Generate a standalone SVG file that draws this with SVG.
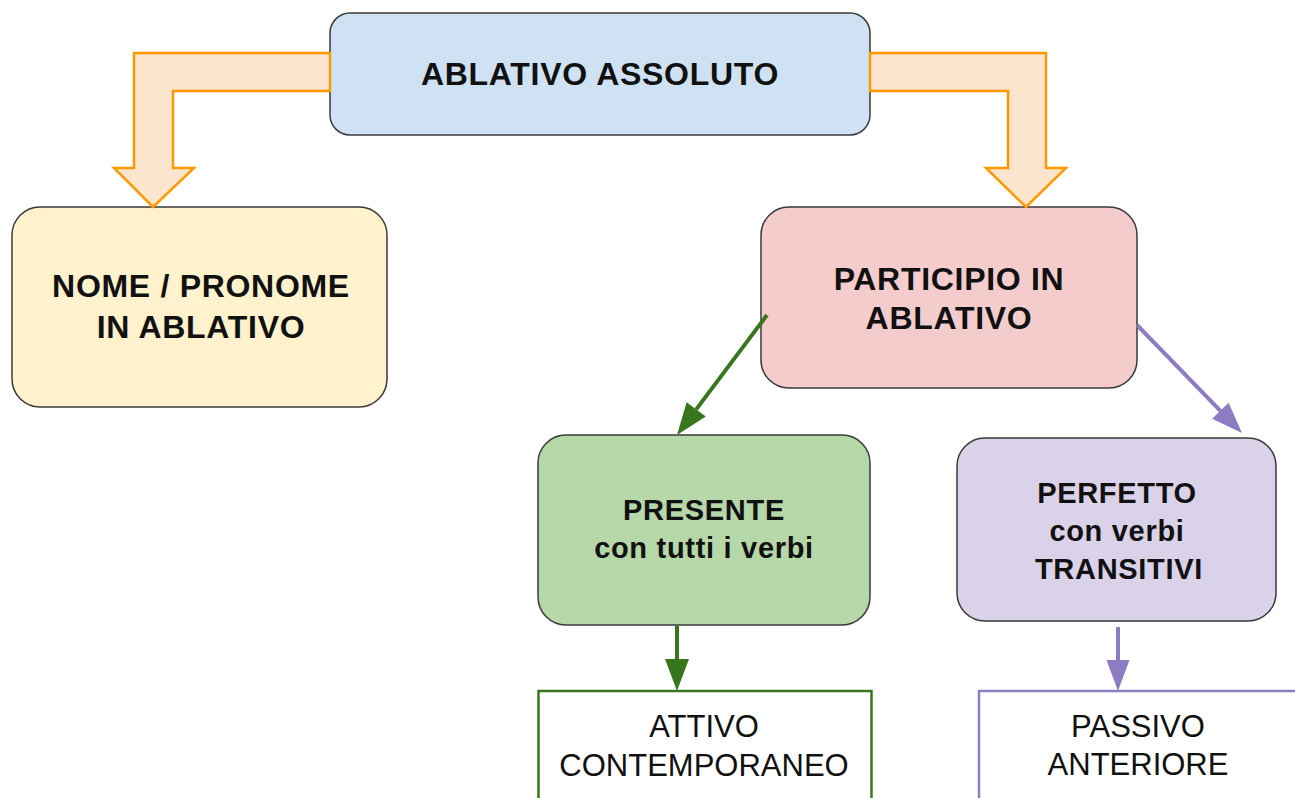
<svg xmlns="http://www.w3.org/2000/svg" width="1295" height="798" viewBox="0 0 1295 798">
<style>
.node{stroke:#3a3a3a;stroke-width:1.5}
.b{font-family:"Liberation Sans",Arial,sans-serif;font-weight:bold;fill:#111;text-anchor:middle;letter-spacing:0.7px}
.t31{font-size:32px}
.t28{font-size:29px}
.r{font-family:"Liberation Sans",Arial,sans-serif;font-size:31px;fill:#111;text-anchor:middle}
.big{fill:#fce5cd;stroke:#ff9900;stroke-width:2.5;stroke-linejoin:miter}
.g{stroke:#38761d;stroke-width:4;fill:none}
.p{stroke:#8e7cc3;stroke-width:4;fill:none}
</style>
<defs>
<marker id="ag" markerUnits="userSpaceOnUse" markerWidth="34" markerHeight="26" refX="0" refY="12" orient="auto" overflow="visible">
<path d="M0,0 L32,12 L0,24 z" fill="#38761d"/>
</marker>
<marker id="ap" markerUnits="userSpaceOnUse" markerWidth="34" markerHeight="26" refX="0" refY="11.5" orient="auto" overflow="visible">
<path d="M0,0 L31,11.5 L0,23 z" fill="#8e7cc3"/>
</marker>
</defs>
<rect width="1295" height="798" fill="#ffffff"/>
<g id="node-ablativo-assoluto">
<rect class="node" x="330" y="13" width="540" height="122" rx="20" fill="#cfe2f3"/>
<text class="b t31" x="600" y="85">ABLATIVO ASSOLUTO</text>
</g>
<g id="node-nome">
<rect class="node" x="12" y="207" width="375" height="200" rx="28" fill="#fff2cc"/>
<text class="b t31" x="201" y="297">NOME / PRONOME</text>
<text class="b t31" x="201" y="338">IN ABLATIVO</text>
</g>
<g id="node-participio">
<rect class="node" x="761" y="207" width="376" height="181" rx="28" fill="#f4cccc"/>
<text class="b t31" x="949" y="290">PARTICIPIO IN</text>
<text class="b t31" x="949" y="329">ABLATIVO</text>
</g>
<g id="node-presente">
<rect class="node" x="538" y="435" width="332" height="190" rx="28" fill="#b6d7a8"/>
<text class="b t28" x="704" y="520">PRESENTE</text>
<text class="b t28" x="704" y="558">con tutti i verbi</text>
</g>
<g id="node-perfetto">
<rect class="node" x="957" y="438" width="319" height="183" rx="28" fill="#d9d2e9"/>
<text class="b t28" x="1117" y="503">PERFETTO</text>
<text class="b t28" x="1117" y="541">con verbi</text>
<text class="b t28" x="1119" y="579">TRANSITIVI</text>
</g>
<g id="node-attivo">
<rect x="538.5" y="691" width="333" height="130" fill="#ffffff" stroke="#38761d" stroke-width="2.5"/>
<text class="r" x="704" y="737">ATTIVO</text>
<text class="r" x="704" y="776">CONTEMPORANEO</text>
</g>
<g id="node-passivo">
<rect x="979" y="691" width="340" height="130" fill="#ffffff" stroke="#8e7cc3" stroke-width="2.5"/>
<text class="r" x="1138" y="737">PASSIVO</text>
<text class="r" x="1138" y="775">ANTERIORE</text>
</g>
<g id="connectors">
<polygon class="big" points="330,53 134,53 134,168 114,168 153,207 194,168 173,168 173,91 330,91"/>
<polygon class="big" points="870,53 1046,53 1046,168 1066,168 1026,207 986,168 1008,168 1008,91 870,91"/>
<line class="g" x1="767" y1="315" x2="696.2" y2="409.4" marker-end="url(#ag)"/>
<line class="p" x1="1137" y1="325" x2="1220.4" y2="410.8" marker-end="url(#ap)"/>
<line class="g" x1="677" y1="626" x2="677" y2="659" marker-end="url(#ag)"/>
<line class="p" x1="1118" y1="627" x2="1118" y2="660" marker-end="url(#ap)"/>
</g>
</svg>
